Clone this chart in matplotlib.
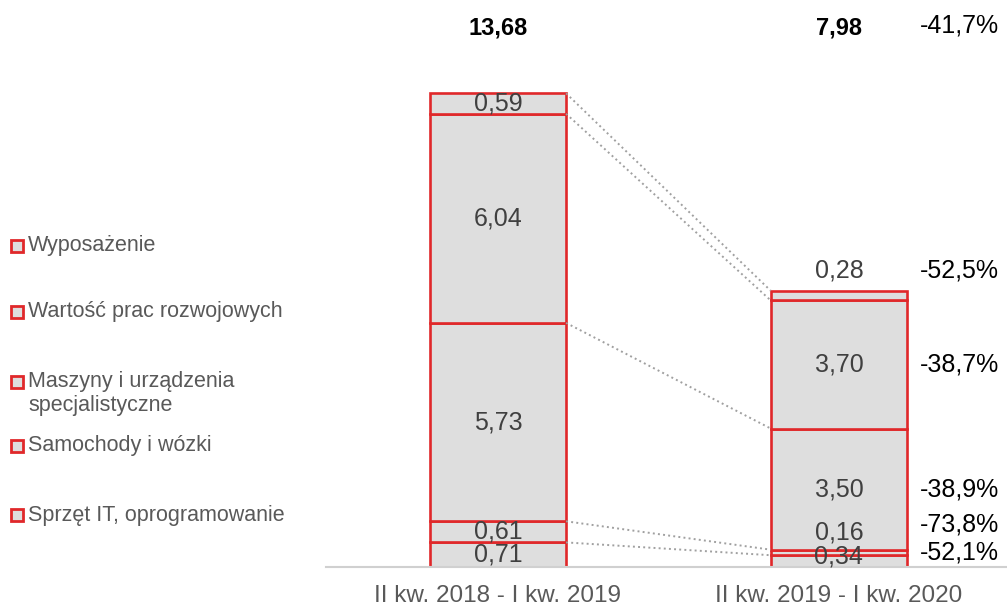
import matplotlib.pyplot as plt
from matplotlib.lines import Line2D

plt.rcParams['font.family'] = ['Liberation Sans', 'DejaVu Sans']

periods = ['II kw. 2018 - I kw. 2019', 'II kw. 2019 - I kw. 2020']
# from the bottom of the stack upwards
categories = ['Sprzęt IT, oprogramowanie', 'Samochody i wózki',
              'Maszyny i urządzenia\nspecjalistyczne',
              'Wartość prac rozwojowych', 'Wyposażenie']
first = [0.71, 0.61, 5.73, 6.04, 0.59]
second = [0.34, 0.16, 3.50, 3.70, 0.28]
changes = ['-52,1%', '-73,8%', '-38,9%', '-38,7%', '-52,5%']
totals = [13.68, 7.98]
total_change = '-41,7%'

red = '#e0282a'
fill = '#dedede'


def fmt(v):
    return ('%.2f' % v).replace('.', ',')


fig = plt.figure(figsize=(10.07, 6.06), dpi=100)
ax = fig.add_axes([326 / 1007, 39 / 606, 681 / 1007, 554 / 606])
ax.set_xlim(-0.504, 1.493)
ax.set_ylim(0, 16)
for s in ['top', 'right', 'left']:
    ax.spines[s].set_visible(False)
ax.spines['bottom'].set_color('#d0d0d0')
ax.spines['bottom'].set_linewidth(1.5)
ax.set_yticks([])
ax.set_xticks([0, 1])
ax.set_xticklabels(periods, fontsize=17.5, color='#595959')
ax.tick_params(axis='x', length=0, pad=13)

w = 0.4
for i, vals in enumerate([first, second]):
    bottom = 0
    for v in vals:
        ax.bar(i, v, w, bottom=bottom, color=fill, edgecolor=red, linewidth=1.9)
        bottom += v

# dotted connectors between the tops of matching segments
b1 = b2 = 0
for a, b in zip(first, second):
    b1 += a
    b2 += b
    ax.plot([w / 2, 1 - w / 2], [b1, b2], ls=':', color='#a0a0a0', lw=1.4)

# value labels in the first bar
b = 0
for v in first:
    ax.text(0, b + v / 2, fmt(v), ha='center', va='center', fontsize=18, color='#404040')
    b += v

# value labels in the second bar (y in data units)
ypos2 = [0.29, 0.99, 2.24, 5.85, 8.55]
for v, y in zip(second, ypos2):
    ax.text(1, y, fmt(v), ha='center', va='center', fontsize=18, color='#404040')
ypos_pct = [0.43, 1.24, 2.24, 5.85, 8.55]
for c, y in zip(changes, ypos_pct):
    ax.text(1.2375, y, c, ha='left', va='center', fontsize=18, color='black')

ax.text(0, 15.58, fmt(totals[0]), ha='center', va='center', fontsize=17,
        fontweight='bold', color='black')
ax.text(1, 15.58, fmt(totals[1]), ha='center', va='center', fontsize=17,
        fontweight='bold', color='black')
ax.text(1.2375, 15.65, total_change, ha='left', va='center', fontsize=18, color='black')

# legend on the left
leg_y = [515, 446, 382, 312, 246]
for lab, y in zip(categories, leg_y):
    fig.add_artist(Line2D([17 / 1007], [1 - y / 606], marker='s', markersize=8,
                          markerfacecolor=fill, markeredgecolor=red, markeredgewidth=2,
                          transform=fig.transFigure))
    for k, line in enumerate(lab.split('\n')):
        fig.text(28 / 1007, 1 - (y + 23 * k) / 606, line, ha='left', va='center',
                 fontsize=15.5, color='#595959')

fig.savefig('out.png', dpi=100)
